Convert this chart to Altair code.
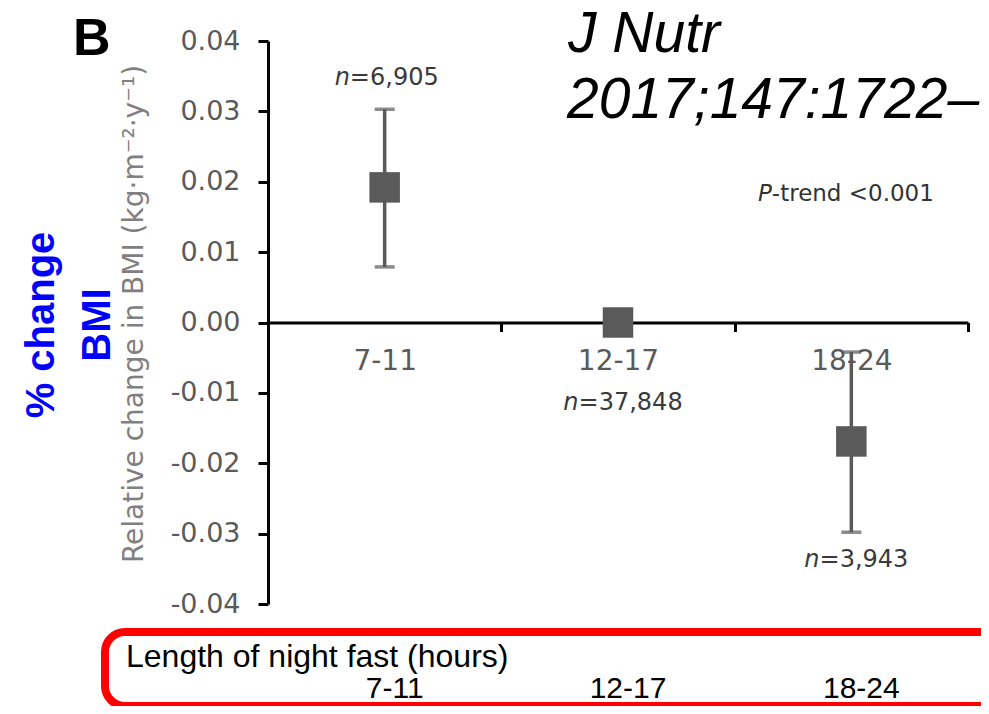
import altair as alt
import pandas as pd

# ---- data ----
categories = ["7-11", "12-17", "18-24"]
means = [0.0192, 0.0, -0.0169]
lower = [0.0079, 0.0, -0.0298]
upper = [0.0303, 0.0, -0.0042]
n_values = ["6,905", "37,848", "3,943"]
y_ticks = [-0.04, -0.03, -0.02, -0.01, 0.0, 0.01, 0.02, 0.03, 0.04]

df = pd.DataFrame({
    "cat": categories,
    "mean": means,
    "lo": lower,
    "hi": upper,
    "eq": ["=" + s for s in n_values],
})

W, H = 700, 563
GRAY = "#5a5a5a"
SANS = "DejaVu Sans"
ARIAL = "Liberation Sans"

xaxis = alt.Axis(
    title=None, offset=-281.5, tickBand="extent", labelAngle=0,
    tickSize=9, tickWidth=3, tickColor="black",
    domainWidth=3, domainColor="black",
    labelFont=SANS, labelFontSize=28, labelColor=GRAY, labelPadding=16,
    grid=False,
)
yaxis = alt.Axis(
    title=None, values=y_ticks, grid=False,
    labelExpr="replace(format(datum.value, '.2f'), '\u2212', '-')",
    tickSize=10, tickWidth=3, tickColor="black",
    domainWidth=3, domainColor="black",
    labelFont=SANS, labelFontSize=27, labelColor=GRAY, labelPadding=18,
)
xscale = alt.Scale(domain=categories, paddingInner=0, paddingOuter=0)
yscale = alt.Scale(domain=[-0.04, 0.04], nice=False, zero=False)

def X():
    return alt.X("cat:N", sort=categories, scale=xscale, axis=xaxis)

def Y(field):
    return alt.Y(f"{field}:Q", scale=yscale, axis=yaxis)

base = alt.Chart(df)

bars = base.mark_rule(color=GRAY, strokeWidth=3.5).encode(x=X(), y=Y("lo"), y2="hi:Q")
cap_lo = base.mark_tick(color=GRAY, size=20, thickness=3.5).encode(x=X(), y=Y("lo"))
cap_hi = base.mark_tick(color=GRAY, size=20, thickness=3.5).encode(x=X(), y=Y("hi"))
points = base.mark_square(color=GRAY, size=930, opacity=1).encode(x=X(), y=Y("mean"))

# n labels ("n" italic, rest upright)
FS_N = 24
adv = {"0": .636, "1": .636, "2": .636, "3": .636, "4": .636, "5": .636,
       "6": .636, "7": .636, "8": .636, "9": .636, "=": .838, ",": .318}
anchors = [("hi", -24, 2), ("mean", 87.5, 5), ("lo", 35, 5)]
nlayers = []
for i, cat in enumerate(categories):
    field, dy, off = anchors[i]
    eq = "=" + n_values[i]
    total = (0.634 + sum(adv[c] for c in eq)) * FS_N
    left = off - total / 2
    sub = base.transform_filter(alt.datum.cat == cat)
    nlayers.append(sub.mark_text(text="n", font=SANS, fontSize=FS_N, fontStyle="italic",
                                 color="#3a3a3a", align="left", baseline="alphabetic",
                                 dx=left, dy=dy).encode(x=X(), y=Y(field)))
    nlayers.append(sub.mark_text(font=SANS, fontSize=FS_N, color="#3a3a3a", align="left",
                                 baseline="alphabetic", dx=left + 0.634 * FS_N, dy=dy)
                   .encode(x=X(), y=Y(field), text="eq:N"))

def txt(t, x, y, **kw):
    return alt.Chart(pd.DataFrame({"t": [t]})).mark_text(**kw).encode(
        x=alt.value(x), y=alt.value(y), text="t:N")

p_italic = txt("P", 490, 160, font=SANS, fontSize=23, fontStyle="italic", color="#333333",
               align="left", baseline="alphabetic")
p_rest = txt("-trend <0.001", 490 + 0.603 * 23, 160, font=SANS, fontSize=23, color="#333333",
             align="left", baseline="alphabetic")

ytitle = txt("Relative change in BMI (kg\u00b7m\u207b\u00b2\u00b7y\u207b\u00b9)", -125, 273,
             font=SANS, fontSize=28, color="#808080", angle=270, align="center",
             baseline="alphabetic")
blue1 = txt("% change", -214, 284, font=ARIAL, fontSize=40, fontWeight="bold", color="#0000ff",
            angle=270, align="center", baseline="alphabetic")
blue2 = txt("BMI", -158, 284, font=ARIAL, fontSize=40, fontWeight="bold", color="#0000ff",
            angle=270, align="center", baseline="alphabetic")
letter = txt("B", -195, 14, font=ARIAL, fontSize=52, fontWeight="bold", color="black",
             align="left", baseline="alphabetic")
jn1 = txt("J Nutr", 300, 11, font=ARIAL, fontSize=57, fontStyle="italic", color="black",
          align="left", baseline="alphabetic")
jn2 = txt("2017;147:1722\u2013", 299, 77, font=ARIAL, fontSize=57, fontStyle="italic",
          color="black", align="left", baseline="alphabetic")

box = alt.Chart(pd.DataFrame({"a": [0]})).mark_rect(
    fillOpacity=0, stroke="#ff0000", strokeWidth=8, cornerRadius=20
).encode(x=alt.value(-163), x2=alt.value(780), y=alt.value(591), y2=alt.value(665))
box_title = txt("Length of night fast (hours)", -142, 626, font=ARIAL, fontSize=32,
                color="black", align="left", baseline="alphabetic")
box_cats = base.mark_text(font=ARIAL, fontSize=30, color="black", align="center",
                          baseline="alphabetic", dx=10).encode(
    x=X(), y=alt.value(657), text="cat:N")

chart = alt.layer(
    box, box_title, box_cats, bars, cap_lo, cap_hi, points, *nlayers,
    p_italic, p_rest, ytitle, blue1, blue2, letter, jn1, jn2,
).properties(
    width=W, height=H,
    autosize=alt.AutoSizeParams(type="none"),
    padding={"left": 260, "top": 33, "right": 13, "bottom": 102},
).configure_view(strokeWidth=0)

chart.save("out.html", embed_options={"renderer": "svg", "actions": False})
